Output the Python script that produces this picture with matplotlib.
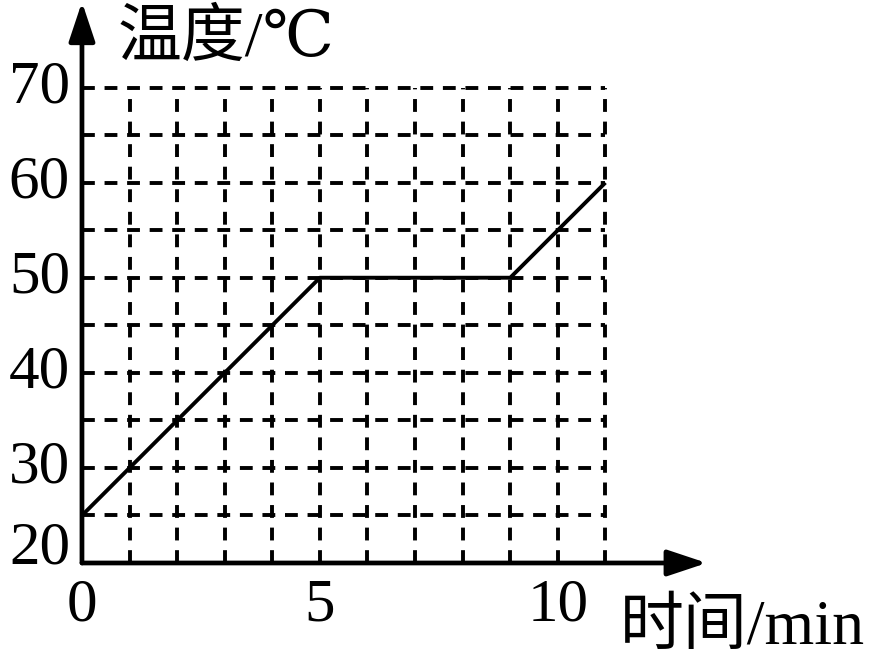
import matplotlib
matplotlib.use('Agg')
import matplotlib.pyplot as plt

# temperature vs time data
t = [0, 5, 9, 11]
temp = [25, 50, 50, 60]

x_ticks = [0, 5, 10]
y_ticks = [20, 30, 40, 50, 60, 70]
x_grid = list(range(1, 12))  # vertical dashed lines, 1..11 min
y_grid = [25, 30, 35, 40, 45, 50, 55, 60, 65, 70]

fonts = ['Liberation Serif', 'DejaVu Serif', 'Noto Sans CJK SC']

fig = plt.figure(figsize=(8.9, 6.58), dpi=100)
ax = fig.add_axes([0.0921, 0.1444, 0.702, 0.8526])
ax.set_xlim(0, 13.13)
ax.set_ylim(20, 79)
ax.axis('off')

# dashed grid
dash = (0, (3.3, 2.5))
for gx in x_grid:
    ax.plot([gx, gx], [20, 70], color='black', lw=2.8, ls=dash)
for gy in y_grid:
    ax.plot([0, 11], [gy, gy], color='black', lw=2.8, ls=dash)

# axes with arrows
arrow = dict(arrowstyle='-|>,head_length=2.4,head_width=0.8',
             color='black', lw=3.4, shrinkA=0, shrinkB=0)
ax.annotate('', xy=(13.13, 20), xytext=(0, 20), arrowprops=arrow)
ax.annotate('', xy=(0, 79), xytext=(0, 20), arrowprops=arrow)

# the data line
ax.plot(t, temp, color='black', lw=2.8, solid_capstyle='butt')

# tick labels
for v in y_ticks:
    yy = v + 1.5 if v == 20 else v
    ax.text(-0.25, yy, str(v), ha='right', va='center', fontsize=44, family=fonts)
for v in x_ticks:
    ax.text(v, 15.5, str(v), ha='center', va='center', fontsize=44, family=fonts)

# axis titles
ax.text(0.75, 75.0, '温度/℃', ha='left', va='center', fontsize=46, family=fonts)
ax.text(11.3, 13.1, '时间/min', ha='left', va='center', fontsize=46, family=fonts,
        clip_on=False)

fig.savefig('out.png', dpi=100)
